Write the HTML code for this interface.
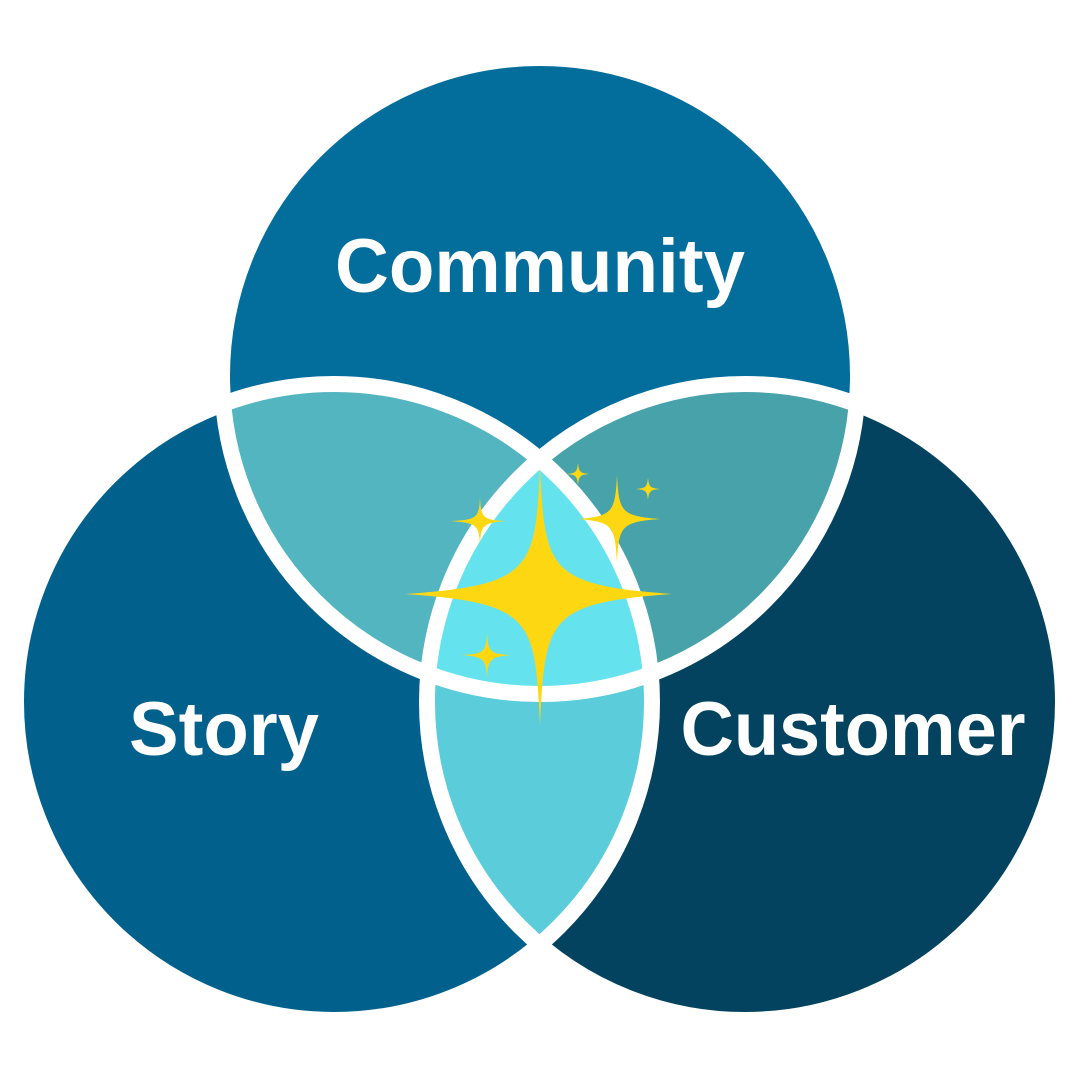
<!DOCTYPE html>
<html><head><meta charset="utf-8"><style>html,body{margin:0;padding:0;background:#fff}svg{display:block}</style></head>
<body>
<svg width="1080" height="1080" viewBox="0 0 1080 1080" xmlns="http://www.w3.org/2000/svg">
<defs>
<clipPath id="cT"><circle cx="540" cy="376" r="318"/></clipPath>
<clipPath id="cL"><circle cx="334" cy="702" r="318"/></clipPath>
<clipPath id="cR"><circle cx="745" cy="702" r="318"/></clipPath>
</defs>
<circle cx="540" cy="376" r="318" fill="#036d9c"/>
<circle cx="334" cy="702" r="318" fill="#02618c"/>
<circle cx="745" cy="702" r="318" fill="#03435f"/>
<g clip-path="url(#cT)">
<circle cx="334" cy="702" r="318" fill="#52b5c0"/>
<circle cx="745" cy="702" r="318" fill="#48a2aa"/>
</g>
<g clip-path="url(#cL)">
<circle cx="745" cy="702" r="318" fill="#5bccd9"/>
<g clip-path="url(#cT)"><circle cx="745" cy="702" r="318" fill="#64e3ef"/></g>
</g>
<g fill="none" stroke="#fff" stroke-width="16">
<circle cx="540" cy="376" r="318"/>
<circle cx="334" cy="702" r="318"/>
<circle cx="745" cy="702" r="318"/>
</g>
<g fill="#fdd712">
<path d="M540,468 C545,570 548,585 672,594 C548,603 545,618 540,725 C535,618 532,603 405,594 C532,585 535,570 540,468Z"/>
<path d="M617,475 C619,512 621,516 660,519 C621,522 619,526 617,562 C615,526 613,522 578,519 C613,516 615,512 617,475Z"/>
<path d="M480,497 C481,518 483,520 506,521 C483,523 481,525 480,545 C479,525 477,523 450,521 C477,520 479,518 480,497Z"/>
<path d="M487,632 C488,652 490,654 511,655 C490,657 488,659 487,679 C486,659 484,657 462,655 C484,654 486,652 487,632Z"/>
<path d="M578,463 C579,472 580,473 589,474 C580,475 579,476 578,485 C577,476 576,475 567,474 C576,473 577,472 578,463Z"/>
<path d="M648,478 C649,487 650,488 660,489 C650,490 649,491 648,500 C647,491 646,490 636,489 C646,488 647,487 648,478Z"/>
</g>
<g fill="#fff" font-family="Liberation Sans, Arial, sans-serif" font-weight="bold" font-size="76" text-anchor="middle">
<text x="540" y="292" textLength="410" lengthAdjust="spacingAndGlyphs">Community</text>
<text x="224" y="755" textLength="190" lengthAdjust="spacingAndGlyphs">Story</text>
<text x="853" y="755" textLength="345" lengthAdjust="spacingAndGlyphs">Customer</text>
</g>
</svg>
</body></html>
